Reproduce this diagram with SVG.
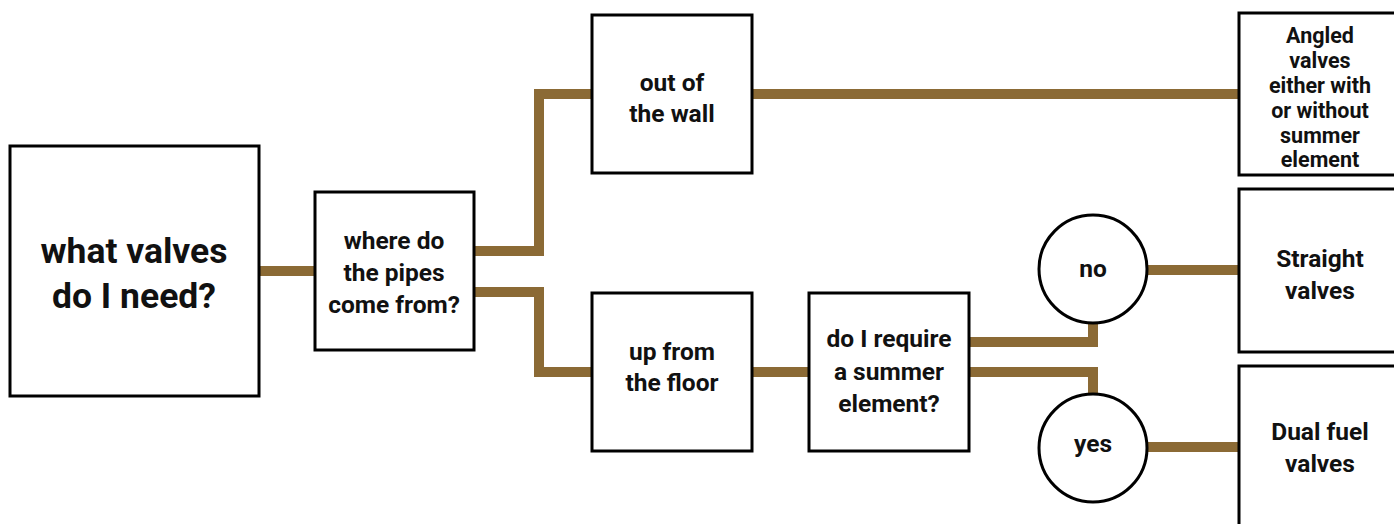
<svg xmlns="http://www.w3.org/2000/svg" width="1394" height="524" viewBox="0 0 1394 524">
<style>
.box{fill:#fff;stroke:#000;stroke-width:3}
.t{font-family:Roboto,"Liberation Sans",sans-serif;font-weight:bold;font-size:24.5px;fill:#111;text-anchor:middle;dominant-baseline:central}
.big{font-size:35.5px}
.sm{font-size:21.5px}
.c{fill:none;stroke:#8B6A35;stroke-width:10;stroke-linejoin:miter}
</style>
<rect width="1394" height="524" fill="#fff"/>
<g id="connectors">
<path class="c" d="M259 271H315"/>
<path class="c" d="M474 251H539V94H592"/>
<path class="c" d="M474 292H539V372H592"/>
<path class="c" d="M752 94H1238"/>
<path class="c" d="M752 372H809"/>
<path class="c" d="M969 342H1093V322"/>
<path class="c" d="M969 372H1093V394"/>
<path class="c" d="M1147 270H1238"/>
<path class="c" d="M1147 447H1238"/>
</g>
<g id="start"><rect class="box" x="10" y="146" width="249" height="250"/>
<text class="t big" x="134" y="251">what valves</text><text class="t big" x="134" y="296">do I need?</text></g>
<g id="where"><rect class="box" x="315" y="192" width="159" height="158"/>
<text class="t" x="394" y="240">where do</text><text class="t" x="394" y="272">the pipes</text><text class="t" x="394" y="304">come from?</text></g>
<g id="wall"><rect class="box" x="592" y="15" width="160" height="158"/>
<text class="t" x="672" y="82">out of</text><text class="t" x="672" y="113">the wall</text></g>
<g id="floor"><rect class="box" x="592" y="293" width="160" height="158"/>
<text class="t" x="672" y="351">up from</text><text class="t" x="672" y="382">the floor</text></g>
<g id="summer"><rect class="box" x="809" y="293" width="160" height="158"/>
<text class="t" x="889" y="338">do I require</text><text class="t" x="889" y="371">a summer</text><text class="t" x="889" y="403">element?</text></g>
<g id="no"><circle class="box" cx="1093" cy="269" r="54"/><text class="t" x="1093" y="268">no</text></g>
<g id="yes"><circle class="box" cx="1093" cy="448" r="54"/><text class="t" x="1093" y="443">yes</text></g>
<g id="angled"><rect class="box" x="1239" y="13" width="160" height="162"/>
<text class="t sm" x="1320" y="35">Angled</text><text class="t sm" x="1320" y="60">valves</text><text class="t sm" x="1320" y="85">either with</text><text class="t sm" x="1320" y="110">or without</text><text class="t sm" x="1320" y="135">summer</text><text class="t sm" x="1320" y="159">element</text></g>
<g id="straight"><rect class="box" x="1239" y="189" width="160" height="163"/>
<text class="t" x="1320" y="258">Straight</text><text class="t" x="1320" y="290">valves</text></g>
<g id="dual"><rect class="box" x="1239" y="366" width="160" height="170"/>
<text class="t" x="1320" y="431">Dual fuel</text><text class="t" x="1320" y="463">valves</text></g>
</svg>
